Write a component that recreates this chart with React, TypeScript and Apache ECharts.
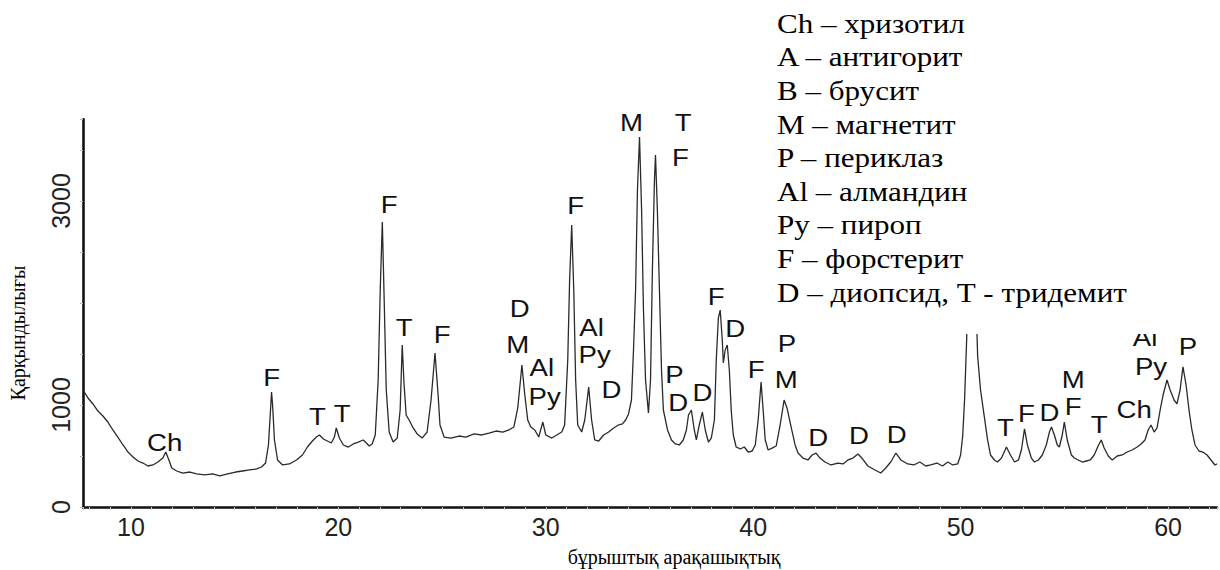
import React, { useEffect, useRef } from "react";
import * as echarts from "echarts";

// 2θ positions (degrees) and intensity (counts)
const twoTheta = [
  7.69, 7.93, 8.17, 8.41, 8.65, 8.89, 9.13, 9.37, 9.62, 9.86,
  10.10, 10.34, 10.58, 10.82, 11.06, 11.30, 11.54, 11.68, 11.83, 11.97,
  12.21, 12.50, 12.84, 13.17, 13.56, 13.94, 14.28, 14.66, 15.05, 15.38,
  15.72, 16.06, 16.30, 16.49, 16.63, 16.73, 16.78, 16.83, 16.92, 17.07,
  17.31, 17.64, 17.98, 18.27, 18.51, 18.75, 18.94, 19.09, 19.28, 19.47,
  19.66, 19.81, 19.90, 20.05, 20.24, 20.48, 20.72, 20.96, 21.20, 21.35,
  21.49, 21.63, 21.78, 21.92, 22.02, 22.12, 22.21, 22.31, 22.45, 22.64,
  22.84, 22.98, 23.08, 23.17, 23.27, 23.41, 23.61, 23.80, 24.04, 24.28,
  24.47, 24.66, 24.81, 24.90, 25.10, 25.43, 25.82, 26.15, 26.54, 26.92,
  27.26, 27.60, 27.93, 28.22, 28.46, 28.65, 28.85, 28.99, 29.13, 29.28,
  29.47, 29.66, 29.86, 30.00, 30.29, 30.53, 30.77, 30.91, 31.06, 31.15,
  31.25, 31.35, 31.44, 31.54, 31.73, 31.88, 32.07, 32.21, 32.36, 32.55,
  32.79, 33.03, 33.27, 33.51, 33.70, 33.85, 33.99, 34.13, 34.23, 34.33,
  34.42, 34.52, 34.62, 34.71, 34.81, 34.95, 35.05, 35.14, 35.24, 35.29,
  35.38, 35.48, 35.58, 35.67, 35.87, 36.06, 36.25, 36.44, 36.63, 36.78,
  36.88, 37.02, 37.16, 37.26, 37.40, 37.55, 37.69, 37.84, 37.98, 38.13,
  38.22, 38.32, 38.41, 38.51, 38.56, 38.65, 38.75, 38.85, 38.94, 39.04,
  39.18, 39.38, 39.57, 39.76, 39.95, 40.10, 40.24, 40.38, 40.48, 40.58,
  40.72, 40.91, 41.11, 41.30, 41.49, 41.63, 41.83, 42.02, 42.16, 42.40,
  42.64, 42.84, 43.03, 43.22, 43.46, 43.75, 44.09, 44.33, 44.57, 44.81,
  45.05, 45.24, 45.53, 45.87, 46.15, 46.39, 46.63, 46.88, 47.12, 47.45,
  47.74, 48.03, 48.32, 48.56, 48.85, 49.13, 49.38, 49.62, 49.86, 50.00,
  50.10, 50.19, 50.29, 50.38, 50.48, 50.58, 50.67, 50.77, 50.82, 50.96,
  51.15, 51.30, 51.44, 51.63, 51.78, 51.97, 52.21, 52.40, 52.60, 52.79,
  52.93, 53.08, 53.22, 53.41, 53.56, 53.75, 53.94, 54.13, 54.28, 54.38,
  54.52, 54.66, 54.76, 54.90, 55.00, 55.14, 55.34, 55.48, 55.67, 55.87,
  56.06, 56.25, 56.44, 56.63, 56.78, 56.92, 57.12, 57.31, 57.55, 57.79,
  58.03, 58.27, 58.51, 58.70, 58.89, 59.04, 59.18, 59.33, 59.47, 59.62,
  59.76, 59.95, 60.10, 60.29, 60.43, 60.58, 60.72, 60.87, 61.01, 61.15,
  61.30, 61.49, 61.68, 61.88, 62.07, 62.26, 62.36,
];

const intensity = [
  1147, 1069, 1010, 941, 892, 833, 755, 686, 608, 539,
  490, 451, 431, 402, 412, 441, 480, 539, 461, 382,
  353, 333, 343, 324, 314, 324, 304, 324, 343, 353,
  363, 373, 392, 431, 608, 951, 1127, 1000, 657, 461,
  412, 422, 461, 510, 588, 647, 686, 706, 667, 647,
  627, 686, 775, 676, 608, 588, 618, 637, 657, 627,
  598, 618, 706, 1245, 2127, 2794, 2029, 1147, 735, 637,
  676, 951, 1588, 1196, 902, 853, 775, 716, 676, 735,
  1049, 1510, 1098, 804, 686, 676, 696, 686, 716, 706,
  725, 745, 735, 755, 784, 971, 1392, 1098, 853, 784,
  755, 686, 833, 706, 676, 706, 735, 804, 1441, 2225,
  2765, 2127, 1245, 804, 735, 853, 1176, 853, 657, 647,
  706, 735, 775, 804, 814, 853, 912, 1049, 1539, 2127,
  3108, 3627, 2912, 1931, 1245, 922, 1245, 2324, 3206, 3451,
  2912, 2127, 1343, 951, 755, 657, 618, 608, 657, 755,
  902, 951, 755, 657, 804, 931, 755, 637, 676, 853,
  1441, 1853, 1931, 1637, 1412, 1539, 1588, 1343, 951, 706,
  588, 569, 588, 539, 549, 608, 853, 1225, 951, 657,
  559, 578, 598, 804, 1049, 971, 784, 608, 529, 480,
  461, 510, 529, 480, 441, 412, 431, 422, 461, 480,
  520, 480, 402, 363, 333, 382, 441, 529, 461, 422,
  412, 441, 402, 412, 431, 402, 441, 412, 422, 510,
  696, 1049, 1637, 2520, 3206, 3500, 3010, 1833, 1480, 1147,
  873, 657, 510, 461, 441, 480, 588, 510, 441, 461,
  559, 765, 608, 480, 441, 461, 510, 608, 735, 784,
  706, 608, 588, 706, 833, 657, 510, 480, 461, 441,
  451, 461, 510, 598, 657, 578, 500, 461, 500, 510,
  539, 559, 588, 618, 657, 755, 804, 735, 775, 951,
  1098, 1245, 1147, 1049, 1010, 1147, 1373, 1196, 951, 755,
  608, 549, 539, 510, 461, 412, 422,
];

// Phase labels placed over the peaks (2θ, intensity)
const peakNames = [
  "Ch", "F", "T", "T", "F", "T", "F", "D", "M", "Al",
  "Py", "F", "Al", "Py", "D", "M", "T", "F", "P", "D",
  "D", "F", "D", "F", "P", "M", "D", "D", "D", "T",
  "F", "D", "M", "F", "T", "Ch", "Al", "Py", "P",
];
const peakX = [
  11.63, 16.78, 18.99, 20.19, 22.45, 23.17, 25.0, 28.75, 28.65, 29.81,
  29.95, 31.44, 32.21, 32.36, 33.17, 34.13, 36.63, 36.49, 36.2, 36.39,
  37.55, 38.22, 39.13, 40.14, 41.63, 41.59, 43.13, 45.1, 46.92, 52.16,
  53.17, 54.28, 55.43, 55.43, 56.68, 58.37, 58.89, 59.18, 60.96,
];
const peakY = [
  627, 1265, 882, 912, 2961, 1755, 1686, 1941, 1588, 1363,
  1078, 2951, 1755, 1490, 1147, 3765, 3765, 3422, 1294, 1020,
  1118, 2059, 1745, 1343, 1598, 1245, 676, 696, 706, 775,
  912, 922, 1245, 980, 804, 951, 1657, 1373, 1569,
];

const legendLines = [
  "Ch – хризотил",
  "A – антигорит",
  "B – брусит",
  "M – магнетит",
  "P – периклаз",
  "Al – алмандин",
  "Py – пироп",
  "F – форстерит",
  "D – диопсид, Т - тридемит",
];

const xTickLabels = [10, 20, 30, 40, 50, 60];
const yTickLabels = [0, 1000, 3000];
const yAxisTitle = "Қарқындылығы";
const xAxisTitle = "бұрыштық арақашықтық";

export default function App() {
  const ref = useRef<HTMLDivElement>(null);

  useEffect(() => {
    if (!ref.current) return;
    const chart = echarts.init(ref.current, undefined, { renderer: "svg" });

    const lineData = twoTheta.map((x, i) => [x, intensity[i]]);
    const labelData = peakNames.map((n, i) => [peakX[i], peakY[i], n]);

    const legendGraphics: any[] = legendLines.map((t, i) => ({
      type: "text",
      x: 777,
      y: 10 + i * 33.6,
      scaleX: 1.15,
      z: 101,
      style: {
        text: t,
        font: '27px "Liberation Serif", "Times New Roman", serif',
        fill: "#000",
      },
    }));

    chart.setOption({
      animation: false,
      backgroundColor: "#fff",
      grid: { left: 83, right: 0, top: 119.4, bottom: 63, containLabel: false },
      xAxis: {
        type: "value",
        min: 7.69,
        max: 62.36,
        splitNumber: 5,
        axisLine: { show: true, onZero: false, lineStyle: { color: "#111", width: 2.6 } },
        axisTick: { show: true, length: 3, lineStyle: { color: "#bbb", width: 1 } },
        minorTick: { show: true, splitNumber: 10, length: 3, lineStyle: { color: "#c4c4c4", width: 1 } },
        splitLine: { show: false },
        axisLabel: {
          margin: 7,
          color: "#222",
          fontFamily: '"Liberation Sans", Arial, sans-serif',
          fontSize: 25,
          formatter: (v: number) => (xTickLabels.includes(v) ? String(v) : ""),
        },
      },
      yAxis: {
        type: "value",
        min: 0,
        max: 3800,
        interval: 500,
        axisLine: { show: true, lineStyle: { color: "#111", width: 2.6 } },
        axisTick: { show: true, length: 3, lineStyle: { color: "#bbb", width: 1 } },
        splitLine: { show: false },
        axisLabel: {
          rotate: 90,
          margin: 10,
          color: "#222",
          fontFamily: '"Liberation Sans", Arial, sans-serif',
          fontSize: 25,
          formatter: (v: number) => (yTickLabels.includes(v) ? String(v) : ""),
        },
      },
      series: [
        {
          type: "line",
          data: lineData,
          showSymbol: false,
          silent: true,
          lineStyle: { color: "#2a2a2a", width: 1.3 },
          z: 2,
        },
        {
          type: "custom",
          data: labelData,
          silent: true,
          z: 3,
          renderItem: (params: any, api: any) => {
            const pt = api.coord([api.value(0), api.value(1)]);
            const name = peakNames[params.dataIndex];
            return {
              type: "text",
              x: pt[0],
              y: pt[1],
              scaleX: 1.15,
              style: {
                text: name,
                font: '24px "Liberation Sans", Arial, sans-serif',
                fill: "#111",
                align: "center",
                verticalAlign: "middle",
              },
            };
          },
        },
      ],
      graphic: [
        {
          type: "rect",
          shape: { x: 755, y: 0, width: 465, height: 334 },
          style: { fill: "#fff" },
          z: 100,
          silent: true,
        },
        ...legendGraphics,
        {
          type: "text",
          x: 18,
          y: 333,
          rotation: Math.PI / 2,
          z: 101,
          style: {
            text: yAxisTitle,
            font: '20px "Liberation Serif", "Times New Roman", serif',
            fill: "#000",
            textAlign: "center",
            textVerticalAlign: "middle",
          },
        },
        {
          type: "text",
          x: 674,
          y: 557,
          z: 101,
          style: {
            text: xAxisTitle,
            font: '20px "Liberation Serif", "Times New Roman", serif',
            fill: "#000",
            textAlign: "center",
            textVerticalAlign: "middle",
          },
        },
      ],
    });

    return () => chart.dispose();
  }, []);

  return (
    <div
      ref={ref}
      style={{ position: "absolute", left: 0, top: 0, width: 1220, height: 570, background: "#fff" }}
    />
  );
}
